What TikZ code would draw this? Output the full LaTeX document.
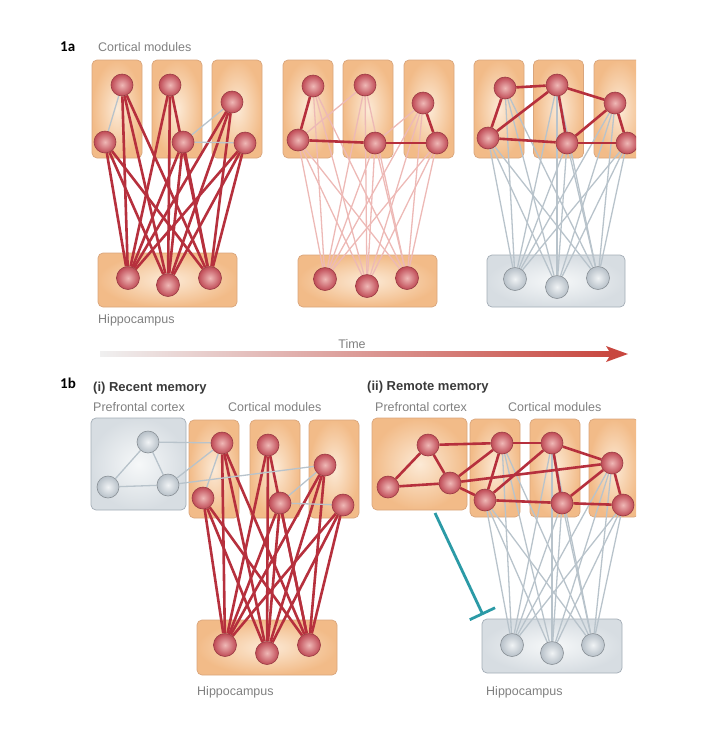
\documentclass[tikz,border=0pt]{standalone}
\usepackage{fontspec}
\setmainfont{Liberation Sans}
\newfontfamily\panelfont{Carlito}
\usetikzlibrary{arrows.meta,calc}
\definecolor{CellRed}{HTML}{BF4A55}
\definecolor{CellLight}{HTML}{EFB8B6}
\definecolor{CellGrey}{HTML}{B7C0C8}
\definecolor{GreyLight}{HTML}{F0F3F5}
\definecolor{LinkRed}{HTML}{B6303D}
\definecolor{LinkPink}{HTML}{EDB9B6}
\definecolor{LinkGrey}{HTML}{B8C3CB}
\definecolor{PaleOrange}{HTML}{FCEAD6}
\definecolor{DeepOrange}{HTML}{F2BB88}
\definecolor{OrangeEdge}{HTML}{D9A57C}
\definecolor{PaleGrey}{HTML}{F6F8F9}
\definecolor{DeepGrey}{HTML}{D7DDE2}
\definecolor{GreyEdge}{HTML}{A3ADB6}
\definecolor{TagGrey}{HTML}{808080}
\definecolor{HeadGrey}{HTML}{3A3A3A}
\definecolor{BlockTeal}{HTML}{2B9AA6}
\definecolor{TimeRed}{HTML}{C8473F}
\pgfdeclarelayer{boxes}
\pgfdeclarelayer{wires}
\pgfsetlayers{boxes,wires,main}

\begin{document}
\begin{tikzpicture}[x=1pt, y=-1pt,
  module/.style={draw=OrangeEdge, line width=0.7pt, rounded corners=5pt, inner color=PaleOrange,
    outer color=DeepOrange, minimum width=50pt, minimum height=98pt, inner sep=0pt},
  greybox/.style={module, draw=GreyEdge, inner color=PaleGrey, outer color=DeepGrey},
  cell/.style={circle, draw=CellRed!80!black, line width=0.6pt, inner color=CellLight,
    outer color=CellRed, minimum size=22pt, inner sep=0pt},
  greycell/.style={cell, draw=CellGrey!75!black, inner color=GreyLight, outer color=CellGrey},
  strong/.style={draw=LinkRed, line width=2.6pt},
  paleline/.style={draw=LinkPink, line width=1.3pt},
  greylink/.style={draw=LinkGrey, line width=1.3pt},
  tag/.style={anchor=west, inner sep=0pt, text=TagGrey, font=\fontsize{12.5}{14}\selectfont},
  headtag/.style={anchor=west, inner sep=0pt, text=HeadGrey, font=\fontsize{13}{15}\selectfont\bfseries},
  panel/.style={anchor=west, inner sep=0pt, font=\fontsize{15}{17}\selectfont\panelfont\bfseries},
  inhibit/.style={draw=BlockTeal, line width=2.8pt, -{Bar[width=28pt, line width=2.8pt]}}
]
\useasboundingbox (0,0) rectangle (706,732);

% boxes
\begin{pgfonlayer}{boxes}
\clip (0,0) rectangle (636,732);
\node[module] (Am1) at (117,109) {};
\node[module] (Am2) at (177,109) {};
\node[module] (Am3) at (237,109) {};
\node[module, minimum width=139pt, minimum height=54pt] (Ahip) at (167.5,280) {};
\node[module] (Bm1) at (308,109) {};
\node[module] (Bm2) at (368,109) {};
\node[module] (Bm3) at (429,109) {};
\node[module, minimum width=139pt, minimum height=52pt] (Bhip) at (367.5,281) {};
\node[module] (Cm1) at (499,109) {};
\node[module] (Cm2) at (558.5,109) {};
\node[module] (Cm3) at (619,109) {};
\node[greybox, minimum width=138pt, minimum height=52pt] (Chip) at (556,281) {};
\node[greybox, minimum width=95pt, minimum height=92pt] (Dpfc) at (138.5,464) {};
\node[module] (Dm1) at (214,469) {};
\node[module] (Dm2) at (275,469) {};
\node[module] (Dm3) at (334,469) {};
\node[module, minimum width=140pt, minimum height=55pt] (Dhip) at (267,647.5) {};
\node[module, minimum width=95pt, minimum height=92pt] (Epfc) at (419.5,464) {};
\node[module] (Em1) at (495,468) {};
\node[module] (Em2) at (555,468) {};
\node[module] (Em3) at (614,468) {};
\node[greybox, minimum width=140pt, minimum height=54pt] (Ehip) at (552,646) {};
\end{pgfonlayer}

% cells
\begin{scope}
\clip (0,0) rectangle (636,732);
\node[cell] (Ac1) at (122,85) {};
\node[cell] (Ac2) at (105,142) {};
\node[cell] (Ac3) at (170,85) {};
\node[cell] (Ac4) at (183,142) {};
\node[cell] (Ac5) at (232,102) {};
\node[cell] (Ac6) at (245,143) {};
\node[cell, minimum size=23pt] (Ah1) at (128,278) {};
\node[cell, minimum size=23pt] (Ah2) at (168,285) {};
\node[cell, minimum size=23pt] (Ah3) at (210,278) {};

\node[cell] (Bc1) at (313,86) {};
\node[cell] (Bc2) at (298,140) {};
\node[cell] (Bc3) at (365,85) {};
\node[cell] (Bc4) at (375,143) {};
\node[cell] (Bc5) at (423,103) {};
\node[cell] (Bc6) at (437,143) {};
\node[cell, minimum size=23pt] (Bh1) at (325,279) {};
\node[cell, minimum size=23pt] (Bh2) at (367,286) {};
\node[cell, minimum size=23pt] (Bh3) at (407,278) {};

\node[cell] (Cc1) at (505,88) {};
\node[cell] (Cc2) at (488,138) {};
\node[cell] (Cc3) at (557,85) {};
\node[cell] (Cc4) at (567,143) {};
\node[cell] (Cc5) at (615,103) {};
\node[cell] (Cc6) at (627,143) {};
\node[greycell, minimum size=23pt] (Ch1) at (515,279) {};
\node[greycell, minimum size=23pt] (Ch2) at (557,287) {};
\node[greycell, minimum size=23pt] (Ch3) at (598,278) {};

\node[greycell] (Dp1) at (148,442) {};
\node[greycell] (Dp2) at (108,487) {};
\node[greycell] (Dp3) at (168,485) {};
\node[cell] (Dc1) at (222,443) {};
\node[cell] (Dc2) at (203,498) {};
\node[cell] (Dc3) at (268,445) {};
\node[cell] (Dc4) at (280,503) {};
\node[cell] (Dc5) at (325,465) {};
\node[cell] (Dc6) at (343,505) {};
\node[cell, minimum size=23pt] (Dh1) at (225,645) {};
\node[cell, minimum size=23pt] (Dh2) at (267,653) {};
\node[cell, minimum size=23pt] (Dh3) at (309,645) {};

\node[cell] (Ep1) at (428,445) {};
\node[cell] (Ep2) at (388,487) {};
\node[cell] (Ep3) at (450,483) {};
\node[cell] (Ec1) at (502,443) {};
\node[cell] (Ec2) at (485,500) {};
\node[cell] (Ec3) at (552,443) {};
\node[cell] (Ec4) at (562,503) {};
\node[cell] (Ec5) at (612,463) {};
\node[cell] (Ec6) at (623,505) {};
\node[greycell, minimum size=23pt] (Eh1) at (512,645) {};
\node[greycell, minimum size=23pt] (Eh2) at (552,653) {};
\node[greycell, minimum size=23pt] (Eh3) at (593,645) {};
\end{scope}

% links
\begin{pgfonlayer}{wires}
\foreach \c in {1,...,6}
  \foreach \h in {1,2,3} {
    \draw[strong] (Ac\c) -- (Ah\h);
    \draw[paleline] (Bc\c) -- (Bh\h);
    \draw[greylink] (Cc\c) -- (Ch\h);
    \draw[strong] (Dc\c) -- (Dh\h);
    \draw[greylink] (Ec\c) -- (Eh\h);
  }
\foreach \a/\b in {1/2,4/5,4/6} {
  \draw[greylink] (Ac\a) -- (Ac\b);
  \draw[greylink] (Dc\a) -- (Dc\b);
}
\foreach \a/\b in {1/2,2/4,4/6,5/6}
  \draw[strong] (Bc\a) -- (Bc\b);
\foreach \a/\b in {2/3,4/5}
  \draw[paleline] (Bc\a) -- (Bc\b);
\foreach \a/\b in {1/3,1/2,2/3,2/4,3/4,3/5,4/5,4/6,5/6} {
  \draw[strong] (Cc\a) -- (Cc\b);
  \draw[strong] (Ec\a) -- (Ec\b);
}
\foreach \a/\b in {1/2,1/3,2/3}
  \draw[greylink] (Dp\a) -- (Dp\b);
\draw[greylink] (Dp1) -- (Dc1);
\draw[greylink] (Dp3) -- (Dc1);
\draw[greylink] (Dp3) -- (Dc5);
\foreach \a/\b in {1/2,1/3,2/3}
  \draw[strong] (Ep\a) -- (Ep\b);
\draw[strong] (Ep1) -- (Ec1);
\draw[strong] (Ep3) -- (Ec1);
\draw[strong] (Ep3) -- (Ec2);
\draw[strong] (Ep3) -- (Ec5);
\end{pgfonlayer}

% texts
\node[panel] (oneA) at (60,47) {1a};
\node[tag] (cortA) at (98,47) {Cortical modules};
\node[tag] (hipA) at (98,320) {Hippocampus};
\node[tag, anchor=center] (time) at (352,344) {Time};
\node[panel] (oneB) at (60,383) {1b};
\node[headtag] (recent) at (93,388) {(i) Recent memory};
\node[tag] (pfcD) at (93,407) {Prefrontal cortex};
\node[tag] (cortD) at (228,407) {Cortical modules};
\node[tag] (hipD) at (197,692) {Hippocampus};
\node[headtag] (remote) at (367,387) {(ii) Remote memory};
\node[tag] (pfcE) at (375,407) {Prefrontal cortex};
\node[tag] (cortE) at (508,407) {Cortical modules};
\node[tag] (hipE) at (486,692) {Hippocampus};

% time arrow
\coordinate (tstart) at (100,354);
\coordinate (tend) at (628,354);
\shade[left color=black!6, right color=TimeRed] ($(tstart)+(0,-2.5)$) rectangle ($(tend)+(-16,2.5)$);
\fill[TimeRed] (tend) -- ++(-22,-8) -- ++(5,8) -- ++(-5,8) -- cycle;

% inhibition
\coordinate (blockfrom) at (435,513);
\coordinate (blockto) at (483,615);
\draw[inhibit] (blockfrom) -- (blockto);
\end{tikzpicture}
\end{document}
